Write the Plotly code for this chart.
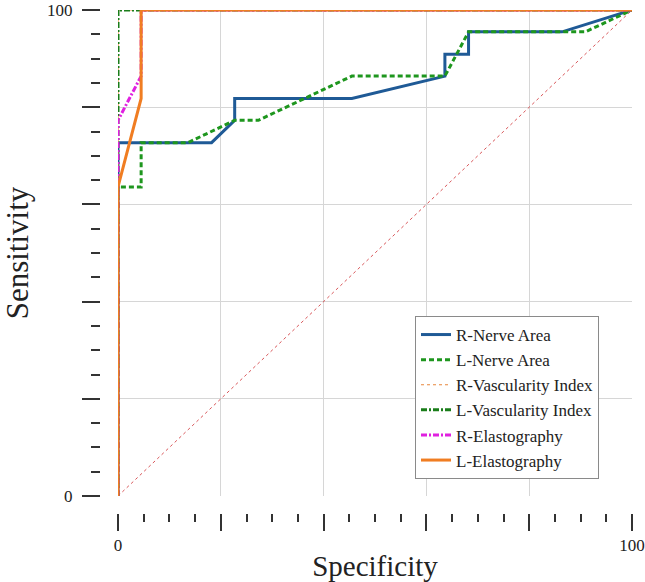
import plotly.graph_objects as go

# ROC data (x = "Specificity" axis as labelled, y = Sensitivity), in %
r_nerve_x = [0, 0, 18.2, 22.7, 22.7, 45.5, 63.6, 63.6, 68.2, 68.2, 86.4, 100]
r_nerve_y = [0, 72.7, 72.7, 77.3, 81.8, 81.8, 86.4, 90.9, 90.9, 95.5, 95.5, 100]

l_nerve_x = [0, 0, 4.5, 4.5, 13.6, 22.7, 27.3, 45.5, 63.6, 68.2, 90.9, 100]
l_nerve_y = [0, 63.6, 63.6, 72.7, 72.7, 77.3, 77.3, 86.4, 86.4, 95.5, 95.5, 100]

r_vasc_x = [0, 0, 100]
r_vasc_y = [0, 100, 100]

l_vasc_x = [0, 0, 100]
l_vasc_y = [0, 100, 100]

r_elasto_x = [0, 0, 4.5, 4.5, 100]
r_elasto_y = [0, 77.3, 86.4, 100, 100]

l_elasto_x = [0, 0, 4.5, 4.5, 100]
l_elasto_y = [0, 63.6, 81.8, 100, 100]

ref_x = [0, 100]
ref_y = [0, 100]

tick_vals = [0, 20, 40, 60, 80, 100]
tick_text = ["0", "", "", "", "", "100"]

SERIF = "Liberation Serif, Times New Roman, serif"

fig = go.Figure()
fig.add_trace(go.Scatter(x=ref_x, y=ref_y, mode="lines", showlegend=False,
                         line=dict(color="#d9575a", width=1, dash="dot"), hoverinfo="skip"))
fig.add_trace(go.Scatter(x=r_nerve_x, y=r_nerve_y, mode="lines", name="R-Nerve Area",
                         line=dict(color="#1f5a96", width=3), cliponaxis=False))
fig.add_trace(go.Scatter(x=l_nerve_x, y=l_nerve_y, mode="lines", name="L-Nerve Area",
                         line=dict(color="#1e961e", width=3, dash="5px,3px"), cliponaxis=False))
fig.add_trace(go.Scatter(x=r_vasc_x, y=r_vasc_y, mode="lines", name="R-Vascularity Index",
                         line=dict(color="#e8873c", width=1.2, dash="dot"), cliponaxis=False))
fig.add_trace(go.Scatter(x=l_vasc_x, y=l_vasc_y, mode="lines", name="L-Vascularity Index",
                         line=dict(color="#1a7d1a", width=3, dash="6px,2px,2px,2px"), cliponaxis=False))
fig.add_trace(go.Scatter(x=r_elasto_x, y=r_elasto_y, mode="lines", name="R-Elastography",
                         line=dict(color="#e020e0", width=3, dash="6px,2px,2px,2px"), cliponaxis=False))
fig.add_trace(go.Scatter(x=l_elasto_x, y=l_elasto_y, mode="lines", name="L-Elastography",
                         line=dict(color="#f07d22", width=3), cliponaxis=False))

W, H = 645, 582
ml, mr, mt, mb = 100, 13, 10, 69
pw = W - ml - mr
ph = H - mt - mb

axis_common = dict(
    range=[0, 100], tickvals=tick_vals, ticktext=tick_text,
    ticks="outside", tickwidth=1.5, tickcolor="#333",
    showline=False, zeroline=False, showgrid=True, gridcolor="#d6d6d6", gridwidth=1,
    tickfont=dict(family=SERIF, size=17, color="#222"),
    ticklabeloverflow="allow",
    anchor="free", position=0, automargin=False,
)

fig.update_layout(
    width=W, height=H,
    margin=dict(l=ml, r=mr, t=mt, b=mb),
    paper_bgcolor="white", plot_bgcolor="white",
    xaxis=dict(axis_common, domain=[18 / pw, 1], ticklen=17,
               minor=dict(dtick=5, tick0=0, ticks="outside", ticklen=8, tickwidth=1.5,
                          tickcolor="#333", showgrid=False),
               title=dict(text="Specificity", font=dict(family=SERIF, size=29, color="#222"),
                          standoff=10)),
    yaxis=dict(axis_common, domain=[17 / ph, 1], ticklen=18,
               minor=dict(dtick=5, tick0=0, ticks="outside", ticklen=9, tickwidth=1.5,
                          tickcolor="#333", showgrid=False),
               ticklabelstandoff=6,
               title=dict(text="Sensitivity", font=dict(family=SERIF, size=31, color="#222"),
                          standoff=40)),
    legend=dict(x=(415 - ml) / pw, xanchor="left", y=(H - mb - 479) / ph, yanchor="bottom",
                bordercolor="#8a8a8a", borderwidth=1, bgcolor="white",
                font=dict(family=SERIF, size=17, color="#222"), tracegroupgap=0),
    showlegend=True,
)

fig.write_html("out.html")
